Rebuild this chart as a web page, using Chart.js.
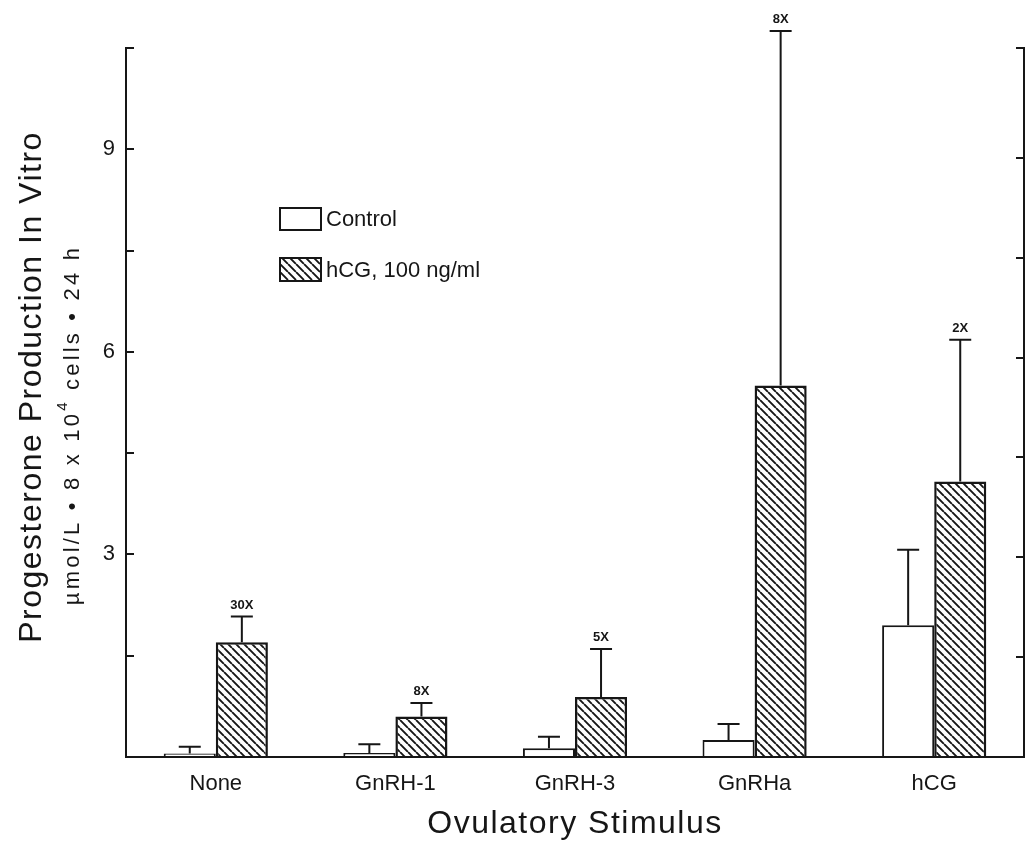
<!DOCTYPE html>
<html>
<head>
<meta charset="utf-8">
<title>Progesterone Production In Vitro</title>
<script src="https://cdn.jsdelivr.net/npm/chart.js@4.4.0/dist/chart.umd.min.js"></script>
<style>
  html, body { margin: 0; padding: 0; background: #fff; }
  #wrap { width: 1031px; height: 846px; position: relative; }
</style>
</head>
<body>
<div id="wrap"><canvas id="chart"></canvas></div>
<script>
// values (µmol/L), upper = top of the error bar
const stimuli = ['None', 'GnRH-1', 'GnRH-3', 'GnRHa', 'hCG'];
const controlMean = [0.05, 0.06, 0.13, 0.25, 1.95];
const controlUpper = [0.15, 0.19, 0.30, 0.49, 3.07];
const hcgMean = [1.70, 0.60, 0.89, 5.50, 4.08];
const hcgUpper = [2.08, 0.80, 1.60, 10.75, 6.18];
const foldLabels = ['30X', '8X', '5X', '8X', '2X'];
const labelledTicks = [3, 6, 9];

const FONT = "'Liberation Sans', Arial, Helvetica, sans-serif";
const INK = '#161616';

const makeHatch = () => {
    const size = 8;
    const c = document.createElement('canvas');
    c.width = size;
    c.height = size;
    const g = c.getContext('2d');
    g.fillStyle = '#fff';
    g.fillRect(0, 0, size, size);
    g.strokeStyle = INK;
    g.lineWidth = 1.9;
    g.beginPath();
    for (let k = -1; k <= 1; k++) {
        g.moveTo(k * size, 0);
        g.lineTo(k * size + size, size);
    }
    g.stroke();
    return g.createPattern(c, 'repeat');
};
const hatch = makeHatch();

// error bars + fold labels on top of the bars
const errorBars = {
    id: 'errorBars',
    afterDatasetsDraw(chart) {
        const { ctx } = chart;
        const y = chart.scales.y;
        ctx.save();
        ctx.strokeStyle = INK;
        ctx.lineWidth = 2;
        chart.data.datasets.forEach((ds, d) => {
            chart.getDatasetMeta(d).data.forEach((bar, i) => {
                const top = y.getPixelForValue(ds.upper[i]);
                ctx.beginPath();
                ctx.moveTo(bar.x, bar.y);
                ctx.lineTo(bar.x, top);
                ctx.moveTo(bar.x - 11, top);
                ctx.lineTo(bar.x + 11, top);
                ctx.stroke();
                if (ds.fold) {
                    ctx.fillStyle = INK;
                    ctx.font = `bold 13px ${FONT}`;
                    ctx.textAlign = 'center';
                    ctx.textBaseline = 'alphabetic';
                    ctx.fillText(ds.fold[i], bar.x, top - 8);
                }
            });
        });
        ctx.restore();
    }
};

// legend box, axis titles
const decorations = {
    id: 'decorations',
    afterDraw(chart) {
        const { ctx } = chart;
        const sets = chart.data.datasets;
        ctx.save();
        ctx.fillStyle = INK;
        ctx.strokeStyle = INK;

        // legend
        [[208, 22], [258, 23]].forEach(([top, h], d) => {
            ctx.fillStyle = sets[d].backgroundColor;
            ctx.fillRect(280, top, 41, h);
            ctx.lineWidth = 2;
            ctx.strokeRect(280, top, 41, h);
            ctx.fillStyle = INK;
            ctx.font = `22px ${FONT}`;
            ctx.textAlign = 'left';
            ctx.textBaseline = 'middle';
            ctx.fillText(sets[d].label, 326, top + h / 2 + 1);
        });

        // x title
        ctx.font = `32px ${FONT}`;
        ctx.letterSpacing = '1.5px';
        ctx.textAlign = 'center';
        ctx.textBaseline = 'alphabetic';
        ctx.fillText('Ovulatory Stimulus', 575, 833);

        // y title
        ctx.save();
        ctx.translate(32, 387);
        ctx.rotate(-Math.PI / 2);
        ctx.letterSpacing = '1.5px';
        ctx.textBaseline = 'middle';
        ctx.fillText('Progesterone Production In Vitro', 0, 0);
        ctx.restore();

        // units line with superscript
        ctx.save();
        ctx.translate(71, 425);
        ctx.rotate(-Math.PI / 2);
        ctx.letterSpacing = '3.2px';
        ctx.textAlign = 'left';
        ctx.textBaseline = 'alphabetic';
        const part1 = 'µmol/L • 8 x 10';
        const part2 = ' cells • 24 h';
        ctx.font = `22px ${FONT}`;
        const w1 = ctx.measureText(part1).width;
        const w2 = ctx.measureText(part2).width;
        ctx.font = `15px ${FONT}`;
        const ws = ctx.measureText('4').width;
        let x = -(w1 + ws + w2) / 2;
        ctx.font = `22px ${FONT}`;
        ctx.fillText(part1, x, 8);
        x += w1;
        ctx.font = `15px ${FONT}`;
        ctx.fillText('4', x, -4);
        x += ws;
        ctx.font = `22px ${FONT}`;
        ctx.fillText(part2, x, 8);
        ctx.restore();

        ctx.restore();
    }
};

new Chart(document.getElementById('chart'), {
    type: 'bar',
    data: {
        labels: stimuli,
        datasets: [
            {
                label: 'Control',
                data: controlMean,
                upper: controlUpper,
                backgroundColor: '#fff',
                borderColor: INK,
                borderWidth: 2,
                categoryPercentage: 0.58,
                barPercentage: 1
            },
            {
                label: 'hCG, 100 ng/ml',
                data: hcgMean,
                upper: hcgUpper,
                fold: foldLabels,
                backgroundColor: hatch,
                borderColor: INK,
                borderWidth: 2.5,
                categoryPercentage: 0.58,
                barPercentage: 1
            }
        ]
    },
    options: {
        responsive: true,
        maintainAspectRatio: false,
        animation: false,
        layout: { padding: { top: 48, left: 0, right: 0, bottom: 0 } },
        plugins: {
            legend: { display: false },
            tooltip: { enabled: false }
        },
        scales: {
            x: {
                afterFit: s => { s.height = 89; },
                border: { color: INK, width: 2 },
                grid: { display: false, drawTicks: false },
                ticks: { color: INK, font: { family: FONT, size: 22 }, padding: 14 }
            },
            y: {
                min: 0,
                max: 10.5,
                afterFit: s => { s.width = 126; },
                border: { color: INK, width: 2 },
                grid: { drawOnChartArea: false, drawTicks: true, tickLength: -8, color: INK, lineWidth: 2 },
                ticks: {
                    stepSize: 1.5,
                    autoSkip: false,
                    padding: 19,
                    color: INK,
                    font: { family: FONT, size: 22 },
                    callback: v => labelledTicks.some(t => Math.abs(t - v) < 1e-6) ? String(Math.round(v)) : ''
                }
            },
            y2: {
                position: 'right',
                min: 0,
                max: 7.1,
                afterFit: s => { s.width = 7; },
                border: { color: INK, width: 2 },
                grid: { drawOnChartArea: false, drawTicks: true, tickLength: -8, color: INK, lineWidth: 2 },
                ticks: { stepSize: 1, display: false }
            }
        }
    },
    plugins: [errorBars, decorations]
});
</script>
</body>
</html>
